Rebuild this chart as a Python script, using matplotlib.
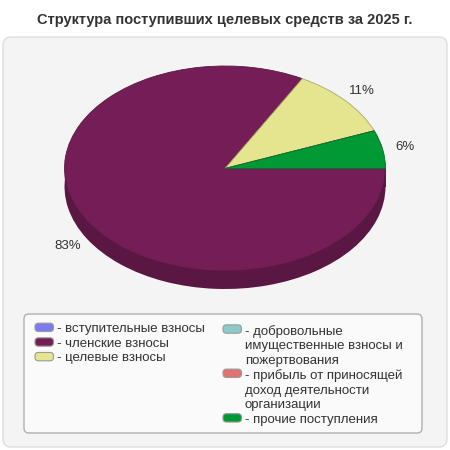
import matplotlib
matplotlib.use('Agg')
import matplotlib.pyplot as plt
from matplotlib.patches import FancyBboxPatch, Patch, Rectangle
from matplotlib.legend_handler import HandlerPatch

plt.rcParams['font.family'] = ['Liberation Sans', 'DejaVu Sans']

# data
title = 'Структура поступивших целевых средств за 2025 г.'
categories = ['вступительные взносы',
              'членские взносы',
              'целевые взносы',
              'добровольные\nимущественные взносы и\nпожертвования',
              'прибыль от приносящей\nдоход деятельности\nорганизации',
              'прочие поступления']
shares = [0, 83, 11, 0, 0, 6]
colors = ['#7b7bef', '#741d56', '#e5e48f', '#8cc9c9', '#e07272', '#009933']
side_colors = ['#5b5bb3', '#5a1744', '#aaa96a', '#689595', '#a65454', '#00702a']

W = H = 450
fig = plt.figure(figsize=(4.5, 4.5), dpi=100)

# background panel + title (pixel coords)
bg = fig.add_axes([0, 0, 1, 1])
bg.set_xlim(0, W)
bg.set_ylim(H, 0)
bg.axis('off')
bg.add_patch(FancyBboxPatch((3, 37), 444, 410, boxstyle='round,pad=0,rounding_size=8',
                            fc='#f4f4f4', ec='#dedede', lw=1))
bg.add_patch(FancyBboxPatch((24, 314), 398, 119, boxstyle='round,pad=0,rounding_size=5',
                            fc='#fafafa', ec='#b0b0b0', lw=1))
bg.text(225, 20, title, ha='center', va='center', fontsize=10.5,
        fontweight='bold', color='#333333')

# 3d-ish pie geometry in pixels
cx, cy, rx, ry, depth = 225, 168.5, 160.5, 102.5, 18
d = depth / ry
ax = fig.add_axes([(cx - rx) / W, 1 - (cy + ry + depth) / H,
                   2 * rx / W, (2 * ry + depth) / H])

# side of the cake
ax.pie(shares, colors=side_colors, startangle=0, counterclock=False,
       center=(0, -d), wedgeprops=dict(linewidth=0))
ax.add_patch(Rectangle((-1, -d), 2, d, color=side_colors[1], lw=0))

# top
labels = [f'{v}%' for v in shares]
wedges, texts = ax.pie(shares, colors=colors, startangle=0, counterclock=False,
                       labels=labels, labeldistance=1.14,
                       textprops=dict(fontsize=9.5, color='#333333'))
for w, ec in zip(wedges, side_colors):
    w.set_edgecolor(ec)
    w.set_linewidth(0.6)
for t, v in zip(texts, shares):
    if not v:
        t.remove()
        continue
    x, y = t.get_position()
    if y < 0:
        t.set_y(y - d)
    t.set_ha('center')
    t.set_va('center')

ax.set_aspect('auto')
ax.set_xlim(-1, 1)
ax.set_ylim(-1 - d, 1)
ax.axis('off')

LSP = 1.05


# legend swatch sits on the first line of multi-line labels
def swatch(legend, orig_handle, xdescent, ydescent, width, height, fontsize):
    n = orig_handle.get_label().count('\n')
    shift = n * fontsize * LSP * 1.2 / 2
    return FancyBboxPatch((-xdescent, -ydescent + shift), width, height,
                          boxstyle='round,pad=0,rounding_size=2.5')


handles = [Patch(facecolor=c, edgecolor='#9a9a9a', lw=0.8, label='- ' + lab)
           for c, lab in zip(colors, categories)]

# two columns as two frameless legends inside the drawn box
for cols, (x0, y0) in [(handles[:3], (35, 323)), (handles[3:], (223, 325))]:
    leg = fig.legend(handles=cols, loc='upper left',
                     bbox_to_anchor=(x0 / W, 1 - y0 / H),
                     fontsize=9.5, frameon=False,
                     handlelength=1.4, handleheight=0.6, handletextpad=0.25,
                     labelspacing=0.2, borderpad=0, borderaxespad=0,
                     handler_map={Patch: HandlerPatch(patch_func=swatch)})
    for t in leg.get_texts():
        t.set_color('#333333')
        t.set_linespacing(LSP * 1.2)

fig.savefig('out.png', dpi=100)
